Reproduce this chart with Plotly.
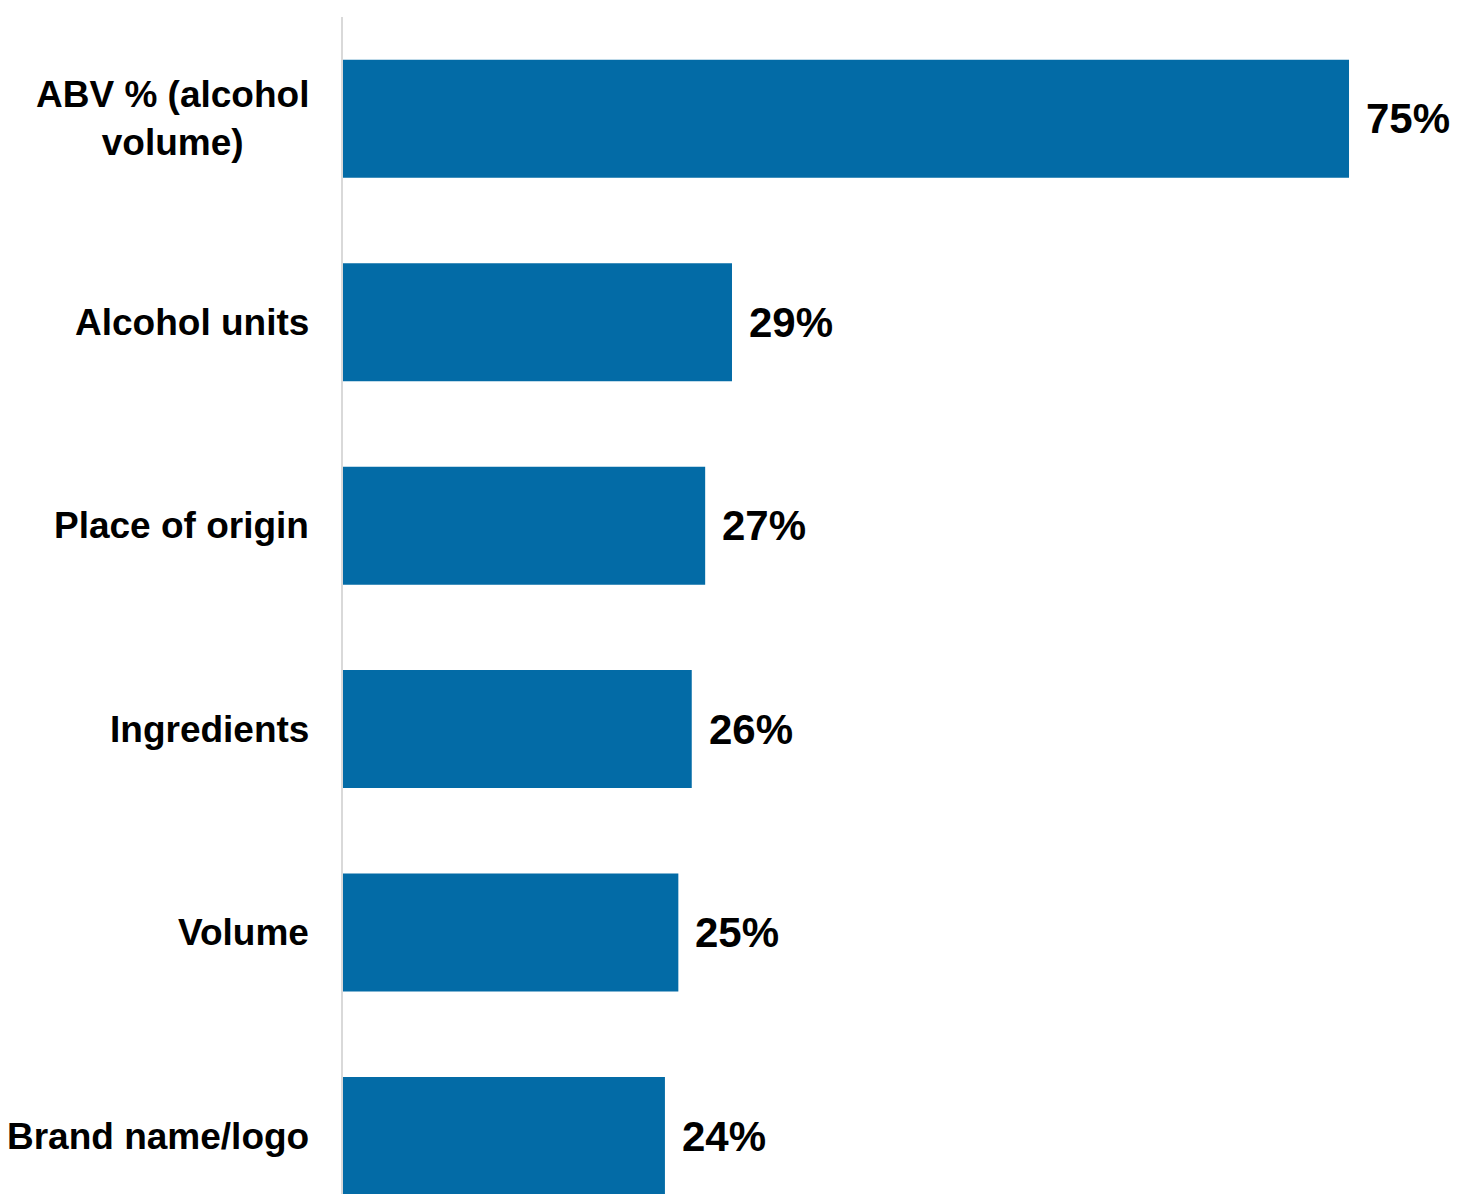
import plotly.graph_objects as go

# Label features shown on alcohol packaging, ranked by share of respondents
features = [
    "ABV % (alcohol<br>volume)",
    "Alcohol units",
    "Place of origin",
    "Ingredients",
    "Volume",
    "Brand name/logo",
]
shares = [75, 29, 27, 26, 25, 24]

BAR_COLOR = "#036ba6"
FONT = "Liberation Sans, Arial, sans-serif"

fig = go.Figure(
    go.Bar(
        x=shares,
        y=features,
        orientation="h",
        marker=dict(color=BAR_COLOR, line=dict(width=0)),
        hoverinfo="skip",
    )
)

# Value labels to the right of each bar
for f, v in zip(features, shares):
    fig.add_annotation(
        x=v, y=f, xref="x", yref="y",
        text=f"<b>{v}%</b>",
        showarrow=False,
        xanchor="left", yanchor="middle",
        xshift=15,
        font=dict(family=FONT, size=42, color="black"),
    )

# Category labels, centred multi-line, to the left of the axis
for f in features:
    fig.add_annotation(
        x=0, y=f, xref="paper", yref="y",
        text=f"<b>{f}</b>",
        showarrow=False,
        xanchor="right", yanchor="middle",
        align="center",
        xshift=-32,
        font=dict(family=FONT, size=37, color="black"),
    )

fig.update_layout(
    width=1457,
    height=1194,
    margin=dict(l=343, r=0, t=17, b=0, pad=0),
    paper_bgcolor="white",
    plot_bgcolor="white",
    bargap=0.42,
    showlegend=False,
    xaxis=dict(
        range=[0, 83.05],
        visible=False,
        showgrid=False,
        zeroline=False,
    ),
    yaxis=dict(
        range=[5.285, -0.5],
        showticklabels=False,
        showgrid=False,
        zeroline=False,
        ticks="",
        showline=True,
        linecolor="#d9d9d9",
        linewidth=2,
    ),
)

fig.write_html("out.html")
